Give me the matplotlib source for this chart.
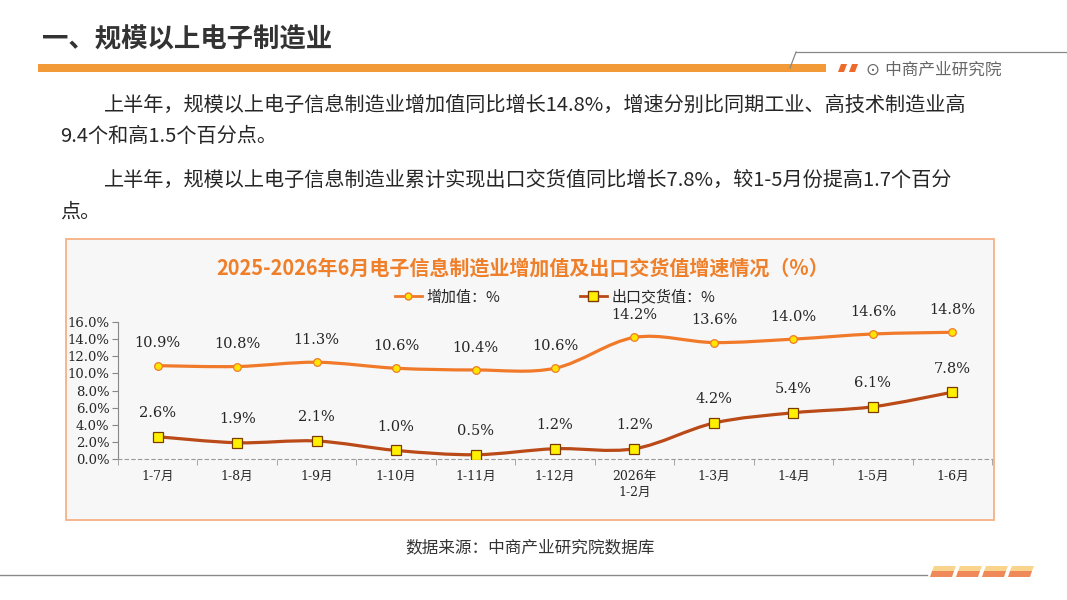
import numpy as np
import matplotlib
matplotlib.use('Agg')
import matplotlib.pyplot as plt
from matplotlib.path import Path
from matplotlib.patches import PathPatch, Rectangle, Polygon
from matplotlib.lines import Line2D

plt.rcParams['font.family'] = ['Noto Sans CJK SC', 'DejaVu Sans']

# data
categories = ['1-7月', '1-8月', '1-9月', '1-10月', '1-11月', '1-12月',
              '2026年\n1-2月', '1-3月', '1-4月', '1-5月', '1-6月']
added_value = [10.9, 10.8, 11.3, 10.6, 10.4, 10.6, 14.2, 13.6, 14.0, 14.6, 14.8]
export_value = [2.6, 1.9, 2.1, 1.0, 0.5, 1.2, 1.2, 4.2, 5.4, 6.1, 7.8]
y_ticks = [0, 2, 4, 6, 8, 10, 12, 14, 16]

c_add = '#F07A2A'
c_exp = '#BA4A18'
serif = ['DejaVu Serif', 'Noto Sans CJK SC']


def smooth_path(xs, ys):
    # catmull-rom style bezier through the points (like excel smoothed line)
    p = np.column_stack([xs, ys]).astype(float)
    ext = np.vstack([p[0], p, p[-1]])
    verts = [p[0]]
    codes = [Path.MOVETO]
    for i in range(len(p) - 1):
        p0, p1, p2, p3 = ext[i], ext[i + 1], ext[i + 2], ext[i + 3]
        c1 = p1 + (p2 - p0) / 6.0
        c2 = p2 - (p3 - p1) / 6.0
        verts += [c1, c2, p2]
        codes += [Path.CURVE4] * 3
    return Path(verts, codes)


fig = plt.figure(figsize=(10.67, 6.0), dpi=100)
fig.patch.set_facecolor('white')

# slide decoration layer in pixel coordinates
bg = fig.add_axes([0, 0, 1, 1])
bg.set_xlim(0, 1067)
bg.set_ylim(600, 0)
bg.axis('off')
bg.set_zorder(0)

bg.text(42, 40, '一、规模以上电子制造业', fontsize=19, fontweight='bold',
        color='#333333', va='center', ha='left')
bg.add_patch(Rectangle((38, 64), 788, 8, color='#F39A38', lw=0))
for x0 in (838, 849):
    bg.add_patch(Polygon([(x0 + 3, 64), (x0 + 9, 64), (x0 + 6, 72), (x0, 72)],
                         closed=True, color='#EE6A2A', lw=0))
bg.text(866, 70, '⊙ 中商产业研究院', fontsize=12, color='#666666',
        va='center', ha='left', family=['DejaVu Sans', 'Noto Sans CJK SC'])
bg.plot([796, 1067], [52, 52], color='#888888', lw=0.9)
bg.plot([790, 796], [68, 52], color='#888888', lw=0.9)

para_kw = dict(fontsize=14.5, color='#262626', va='center', ha='left')
bg.text(104, 105, '上半年，规模以上电子信息制造业增加值同比增长14.8%，增速分别比同期工业、高技术制造业高', **para_kw)
bg.text(60, 136, '9.4个和高1.5个百分点。', **para_kw)
bg.text(104, 180, '上半年，规模以上电子信息制造业累计实现出口交货值同比增长7.8%，较1-5月份提高1.7个百分', **para_kw)
bg.text(60, 212, '点。', **para_kw)

# chart box
bg.add_patch(Rectangle((66, 239), 928, 281, facecolor='#F7F7F7',
                       edgecolor='#F4B183', lw=1.3))
bg.text(523, 268, '2025-2026年6月电子信息制造业增加值及出口交货值增速情况（%）',
        fontsize=14.4, fontweight='bold', color='#F07F2A', ha='center', va='center')

bg.text(530, 548, '数据来源：中商产业研究院数据库', fontsize=12, color='#333333',
        ha='center', va='center')
bg.plot([0, 927], [575, 575], color='#8A8A8A', lw=1)
for i in range(4):
    x0 = 930 + i * 26
    bg.add_patch(Polygon([(x0 + 4, 566), (x0 + 26, 566), (x0 + 24, 571), (x0 + 2, 571)],
                         closed=True, color='#FAD38C', lw=0))
    bg.add_patch(Polygon([(x0 + 2, 571), (x0 + 24, 571), (x0 + 22, 577), (x0, 577)],
                         closed=True, color='#F0895A', lw=0))

# chart
ax = fig.add_axes([118 / 1067, 1 - 459 / 600, 874 / 1067, 137 / 600])
ax.set_zorder(2)
ax.patch.set_alpha(0)
x = np.arange(len(categories))

ax.add_patch(PathPatch(smooth_path(x, added_value), fill=False, edgecolor=c_add,
                       lw=2.3, zorder=3))
ax.add_patch(PathPatch(smooth_path(x, export_value), fill=False, edgecolor=c_exp,
                       lw=2.3, zorder=3))
ax.plot(x, added_value, 'o', ms=5.5, mfc='#FFE500', mec=c_add, mew=0.9, zorder=4)
ax.plot(x, export_value, 's', ms=7.5, mfc='#FFF000', mec='#7A3A00', mew=0.9, zorder=4)

for xi, v in zip(x, added_value):
    ax.annotate('%.1f%%' % v, (xi, v), xytext=(0, 11), textcoords='offset points',
                ha='center', va='bottom', fontsize=10.5, color='#262626', family=serif)
for xi, v in zip(x, export_value):
    ax.annotate('%.1f%%' % v, (xi, v), xytext=(0, 12), textcoords='offset points',
                ha='center', va='bottom', fontsize=10.5, color='#262626', family=serif)

ax.set_xlim(-0.5, len(categories) - 0.5)
ax.set_ylim(0, 16)
ax.set_yticks(y_ticks)
ax.set_yticklabels(['%.1f%%' % t for t in y_ticks], family=serif, fontsize=9.5,
                   color='#262626')
ax.set_xticks(x)
ax.set_xticklabels(categories, family=serif, fontsize=9, color='#262626',
                   linespacing=1.3)
ax.set_xticks(np.arange(-0.5, len(categories), 1), minor=True)
ax.tick_params(axis='x', which='major', length=0, pad=8)
ax.tick_params(axis='x', which='minor', length=4, color='#999999')
ax.tick_params(axis='y', length=4, color='#888888', pad=2)
for s in ('top', 'right'):
    ax.spines[s].set_visible(False)
ax.spines['left'].set_color('#888888')
ax.spines['bottom'].set_color('#999999')
ax.spines['bottom'].set_linestyle((0, (3, 3)))

handles = [Line2D([], [], color=c_add, lw=2, marker='o', ms=5, mfc='#FFE500', mec=c_add),
           Line2D([], [], color=c_exp, lw=2, marker='s', ms=7, mfc='#FFF000', mec='#7A3A00')]
ax.legend(handles, ['增加值：%', '出口交货值：%'], ncol=2, frameon=False,
          loc='center', bbox_to_anchor=(555, 297), bbox_transform=bg.transData,
          fontsize=10.8, handlelength=1.8, handletextpad=0.3, columnspacing=5.3,
          labelcolor='#262626')

fig.savefig('out.png', dpi=100, facecolor='white')
